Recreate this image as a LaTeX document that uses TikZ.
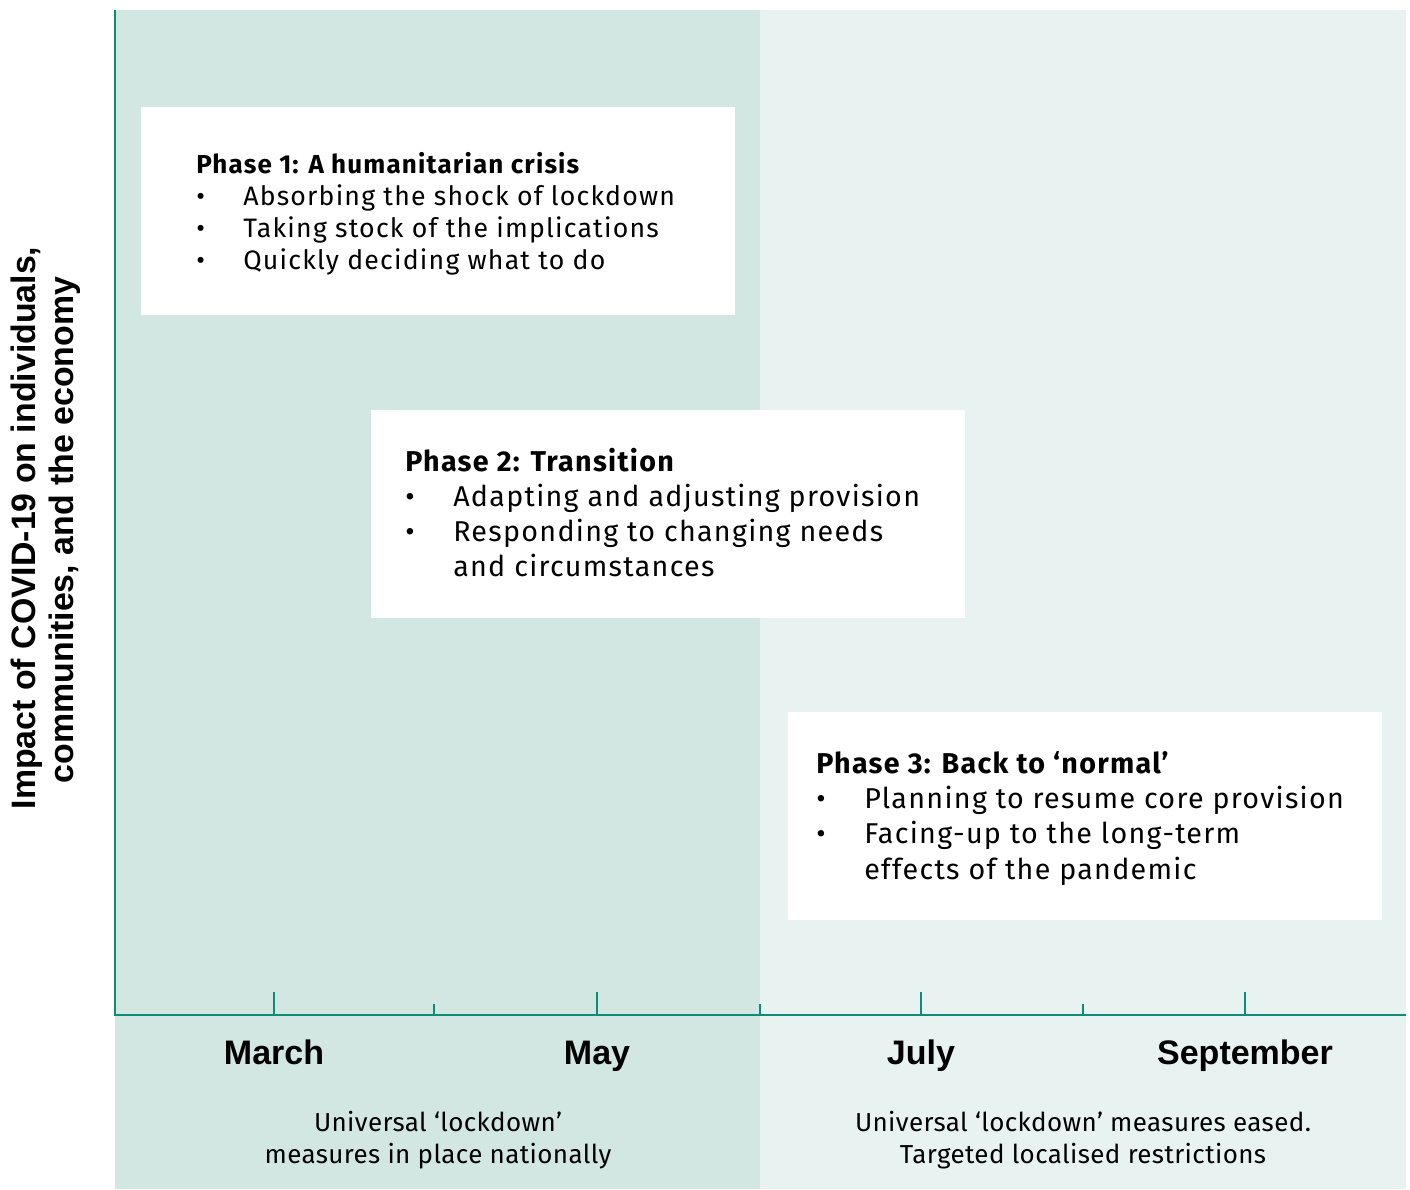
\documentclass[tikz,border=0pt]{standalone}
\usepackage{fontspec}
\setmainfont{Fira Sans}
\newfontfamily\boxfont[LetterSpace=4.5]{Fira Sans}
\newfontfamily\notefont[LetterSpace=1.5]{Fira Sans}
\newfontfamily\labfont{Liberation Sans}
\definecolor{darkbg}{HTML}{D2E7E2}
\definecolor{lightbg}{HTML}{E8F2F0}
\definecolor{axis}{HTML}{0E8C7A}
\begin{document}
\begin{tikzpicture}[x=0.75pt,y=-0.75pt,
  axisline/.style={draw=axis,line width=2.2pt},
  tickline/.style={draw=axis,line width=1.8pt},
  month/.style={font=\labfont\bfseries\fontsize{25.5}{30}\selectfont,anchor=base},
  note/.style={font=\notefont\fontsize{19.5}{24}\selectfont,align=center,anchor=center},
  phasebox/.style={fill=white,draw=none},
  boxtext/.style={font=\boxfont\fontsize{20}{24}\selectfont,anchor=base west,inner sep=0pt},
  boxtitle/.style={font=\boxfont\bfseries\fontsize{19.5}{24}\selectfont,anchor=base west,inner sep=0pt},
  boxtextb/.style={font=\boxfont\fontsize{21.5}{24}\selectfont,anchor=base west,inner sep=0pt},
  boxtitleb/.style={font=\boxfont\bfseries\fontsize{21.5}{24}\selectfont,anchor=base west,inner sep=0pt},
  ylab/.style={font=\labfont\bfseries\fontsize{25.4}{30}\selectfont,rotate=90,anchor=center,inner sep=0pt}]
\useasboundingbox (0,0) rectangle (1410,1189);
% backgrounds
\fill[darkbg] (115,10) rectangle (760,1189);
\fill[lightbg] (760,10) rectangle (1406,1189);
% axes
\coordinate (o) at (115,1015);
\coordinate (ytop) at (115,10);
\coordinate (xend) at (1406,1015);
\draw[axisline] (ytop) -- (o) -- (xend);
% ticks
\foreach \x in {274,597,921,1245} \draw[tickline] (\x,992) -- (\x,1015);
\foreach \x in {434,760,1083} \draw[tickline] (\x,1004) -- (\x,1015);
% months
\node[month] (m1) at (274,1064) {March};
\node[month] (m2) at (597,1064) {May};
\node[month] (m3) at (921,1064) {July};
\node[month] (m4) at (1245,1064) {September};
% notes
\node[note] (n1) at (438,1140) {Universal ‘lockdown’\\measures in place nationally};
\node[note] (n2) at (1083,1140) {Universal ‘lockdown’ measures eased.\\Targeted localised restrictions};
% y label
\node[ylab] (y1) at (27,528) {Impact of COVID-19 on individuals,};
\node[ylab] (y2) at (65,530) {communities, and the economy};
% box 1
\fill[phasebox] (141,107) rectangle (735,315);
\node[boxtitle] (p1) at (196,173) {Phase 1: A humanitarian crisis};
\node[boxtext] (b11) at (196,205) {•};
\node[boxtext] (t11) at (243,205) {Absorbing the shock of lockdown};
\node[boxtext] (b12) at (196,237) {•};
\node[boxtext] (t12) at (243,237) {Taking stock of the implications};
\node[boxtext] (b13) at (196,269) {•};
\node[boxtext] (t13) at (243,269) {Quickly deciding what to do};
% box 2
\fill[phasebox] (371,410) rectangle (965,618);
\node[boxtitleb] (p2) at (405,471) {Phase 2: Transition};
\node[boxtextb] (b21) at (405,506) {•};
\node[boxtextb] (t21) at (453,506) {Adapting and adjusting provision};
\node[boxtextb] (b22) at (405,541) {•};
\node[boxtextb] (t22) at (453,541) {Responding to changing needs};
\node[boxtextb] (t23) at (453,576) {and circumstances};
% box 3
\fill[phasebox] (788,712) rectangle (1382,920);
\node[boxtitleb] (p3) at (816,773) {Phase 3: Back to ‘normal’};
\node[boxtextb] (b31) at (816,808) {•};
\node[boxtextb] (t31) at (864,808) {Planning to resume core provision};
\node[boxtextb] (b32) at (816,843) {•};
\node[boxtextb] (t32) at (864,843) {Facing-up to the long-term};
\node[boxtextb] (t33) at (864,879) {effects of the pandemic};
\end{tikzpicture}
\end{document}
